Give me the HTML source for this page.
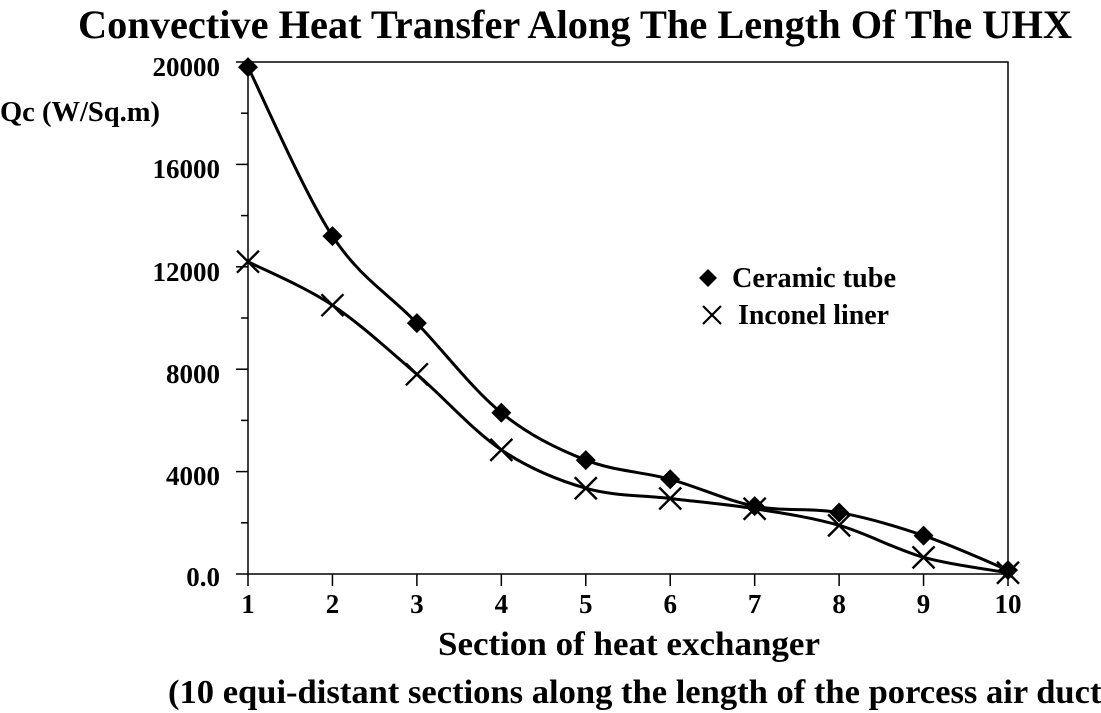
<!DOCTYPE html>
<html><head><meta charset="utf-8"><style>
html,body{margin:0;padding:0;background:#fff;overflow:hidden;}
svg{display:block;font-family:"Liberation Serif",serif;font-weight:bold;}
</style></head><body>
<svg id="s" width="1101" height="713" viewBox="0 0 1101 713">
<text x="575" y="38" font-size="40" text-anchor="middle" textLength="994" lengthAdjust="spacingAndGlyphs">Convective Heat Transfer Along The Length Of The UHX</text>
<rect x="248" y="62" width="760" height="512" fill="none" stroke="#000" stroke-width="1.5"/>
<g stroke="#000" stroke-width="1.5" id="ticks"></g>
<g font-size="27" text-anchor="end">
<text x="220" y="76">20000</text>
<text x="220" y="178">16000</text>
<text x="220" y="281">12000</text>
<text x="220" y="383">8000</text>
<text x="220" y="485">4000</text>
<text x="220" y="586">0.0</text>
</g>
<text x="0" y="121" font-size="28" textLength="160" lengthAdjust="spacingAndGlyphs">Qc (W/Sq.m)</text>
<g font-size="27" text-anchor="middle" id="xl"></g>
<text x="438" y="655" font-size="34" textLength="382" lengthAdjust="spacingAndGlyphs">Section of heat exchanger</text>
<text x="168" y="703" font-size="34" textLength="945" lengthAdjust="spacingAndGlyphs">(10 equi-distant sections along the length of the porcess air duct)</text>
<g id="series" fill="none" stroke="#000" stroke-width="3"></g>
<path d="M708 269 L717 278 L708 287 L699 278 Z" fill="#000"/>
<text x="732" y="287" font-size="28" textLength="164" lengthAdjust="spacingAndGlyphs">Ceramic tube</text>
<path d="M703 306 L721 324 M721 306 L703 324" stroke="#000" stroke-width="2.2"/>
<text x="738" y="324" font-size="28" textLength="151" lengthAdjust="spacingAndGlyphs">Inconel liner</text>
</svg>
<script>
var NS="http://www.w3.org/2000/svg";
function el(p,t,a){var e=document.createElementNS(NS,t);for(var k in a)e.setAttribute(k,a[k]);p.appendChild(e);return e;}
var xs=[],i;for(i=0;i<10;i++)xs.push(248+i*760/9);
var c=[19800,13200,9800,6300,4450,3700,2650,2400,1500,150];
var n=[12200,10500,7800,4850,3350,2950,2550,1900,650,50];
function Y(v){return 574-v*512/20000;}
var tk=document.getElementById('ticks');
for(i=0;i<=10;i++){var y=574-i*51.2;el(tk,'line',{x1:i%2?241:236,x2:248,y1:y,y2:y});}
var xl=document.getElementById('xl');
for(i=0;i<10;i++){el(tk,'line',{x1:xs[i],x2:xs[i],y1:574,y2:586});var t=el(xl,'text',{x:xs[i],y:613});t.textContent=(i+1);}
var sg=document.getElementById('series');
function path(v){var p=v.map(function(a,i){return [xs[i],Y(a)];});var d="M"+p[0][0]+" "+p[0][1];
for(var i=0;i<p.length-1;i++){var p0=p[Math.max(0,i-1)],p1=p[i],p2=p[i+1],p3=p[Math.min(p.length-1,i+2)];
d+=" C"+(p1[0]+(p2[0]-p0[0])/6)+" "+(p1[1]+(p2[1]-p0[1])/6)+" "+(p2[0]-(p3[0]-p1[0])/6)+" "+(p2[1]-(p3[1]-p1[1])/6)+" "+p2[0]+" "+p2[1];}
el(sg,'path',{d:d});return p;}
var pc=path(c),pn=path(n);
pc.forEach(function(p){el(sg,'path',{d:"M"+p[0]+" "+(p[1]-10)+" l10 10 l-10 10 l-10 -10z",fill:"#000",stroke:"none"});});
pn.forEach(function(p){el(sg,'path',{d:"M"+(p[0]-11)+" "+(p[1]-11)+" l22 22 M"+(p[0]+11)+" "+(p[1]-11)+" l-22 22",stroke:"#000","stroke-width":2.4});});
</script>
</body></html>
